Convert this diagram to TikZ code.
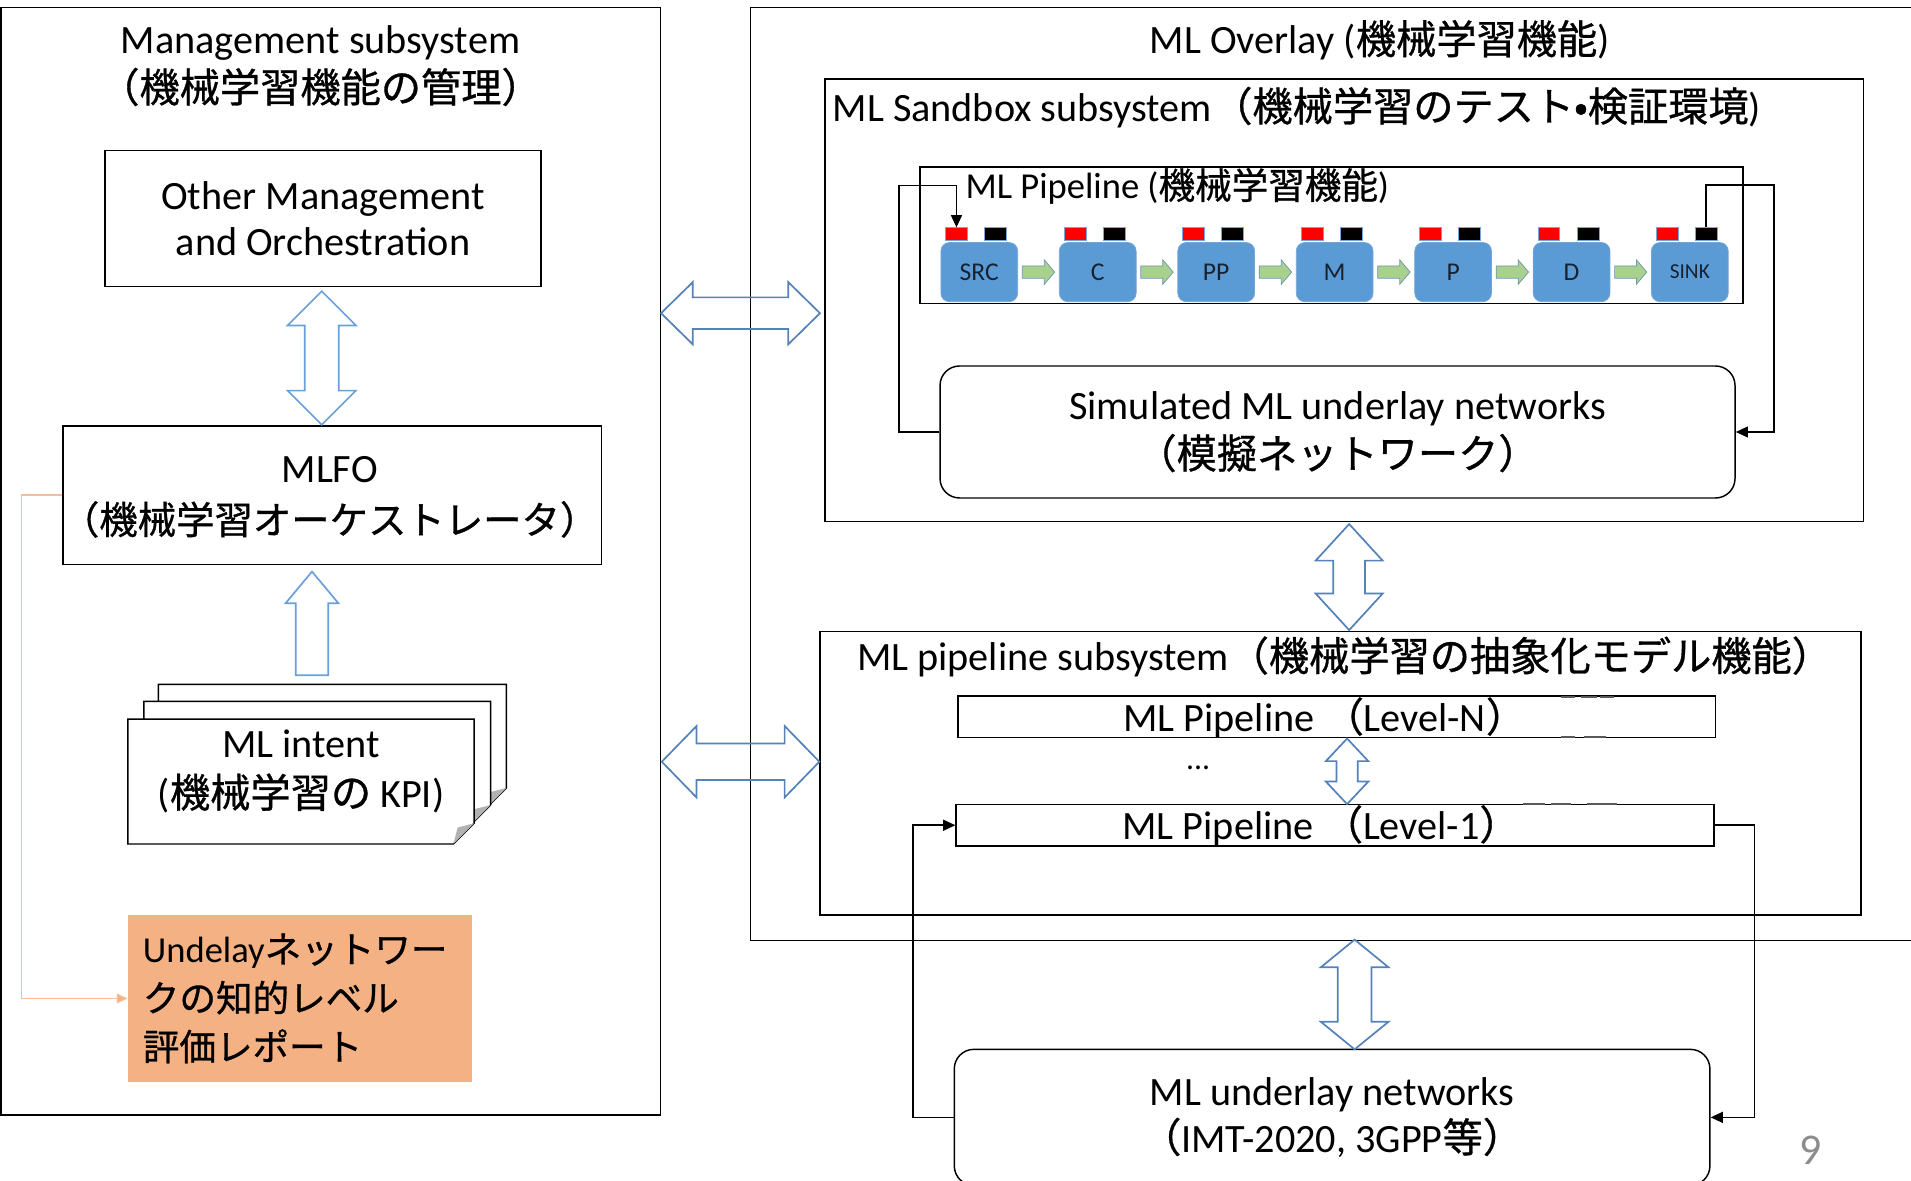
\documentclass[tikz,border=0pt]{standalone}
\usepackage{fontspec}
\setmainfont{Carlito}
\newfontfamily\jp[FakeBold=0.8]{Noto Sans CJK JP}
\usetikzlibrary{calc,arrows.meta}

\definecolor{arrblue}{RGB}{84,130,185}
\definecolor{arrlight}{RGB}{105,160,218}
\definecolor{cbody}{RGB}{91,155,213}
\definecolor{cedge}{RGB}{120,165,215}
\definecolor{contxt}{RGB}{22,34,48}
\definecolor{gfill}{RGB}{169,209,142}
\definecolor{gedge}{RGB}{110,150,175}
\definecolor{orangebox}{RGB}{244,177,131}
\definecolor{orangeline}{RGB}{246,190,150}
\definecolor{pagegrey}{RGB}{140,140,140}

\tikzset{
  base/.style={inner sep=0pt, font=\fontsize{33}{40}\selectfont},
  box/.style={base, draw=black, line width=1.2pt, align=center},
  rbox/.style={box, rounded corners=16pt},
  title/.style={base, align=center},
  conn/.style={draw=black, line width=1.2pt},
  blk/.style={draw=arrblue, line width=1.4pt, line join=miter},
  blkl/.style={draw=arrlight, line width=1.4pt, line join=miter},
  cont/.style={fill=cbody, draw=cedge, line width=0.6pt, rounded corners=7pt,
    minimum width=63pt, minimum height=48.5pt, inner sep=0pt, text=contxt},
  capin/.style={fill=red, draw=cedge, line width=0.5pt, minimum width=18pt,
    minimum height=10.2pt, inner sep=0pt},
  capout/.style={capin, fill=black},
  ghost/.style={draw=black!65, line width=1.6pt},
}

% vertical double block arrow: x, y top, y bottom, head half width, head length, shaft half width
\newcommand\dblv[7][blk]{\draw[#1] (#2,#3) -- (#2+#5,#3+#6) -- (#2+#7,#3+#6) -- (#2+#7,#4-#6)
  -- (#2+#5,#4-#6) -- (#2,#4) -- (#2-#5,#4-#6) -- (#2-#7,#4-#6) -- (#2-#7,#3+#6)
  -- (#2-#5,#3+#6) -- cycle;}
% horizontal double block arrow: y, x left, x right, head half height, head length, shaft half height
\newcommand\dblh[7][blk]{\draw[#1] (#3,#2) -- (#3+#6,#2-#5) -- (#3+#6,#2-#7) -- (#4-#6,#2-#7)
  -- (#4-#6,#2-#5) -- (#4,#2) -- (#4-#6,#2+#5) -- (#4-#6,#2+#7) -- (#3+#6,#2+#7)
  -- (#3+#6,#2+#5) -- cycle;}
% pipeline container with input and output ports
\newcommand\container[4]{%
  \node[cont, font=\fontsize{#4}{#4}\selectfont] (#1) at (#2+31.5,223.25) {#3};
  \node[capin] (#1-in) at (#2+12.8,191.9) {};
  \node[capout] (#1-out) at (#2+44.85,191.9) {};}
% small green flow arrow between two containers
\newcommand\garrow[2]{\filldraw[fill=gfill, draw=gedge, line width=0.6pt]
  let \p1=(#1.east), \p2=(#2.west) in
  (\x1+3.5pt,\y1+5pt) -- (\x2-12pt,\y1+5pt) -- (\x2-12pt,\y1+10pt) -- (\x2-3.5pt,\y1)
  -- (\x2-12pt,\y1-10pt) -- (\x2-12pt,\y1-5pt) -- (\x1+3.5pt,\y1-5pt) -- cycle;}
% one sheet of a stacked document with a folded corner
\newcommand\sheet[4]{%
  \filldraw[fill=white, draw=black, line width=1.2pt] (#1,#2) -- (#3,#2) -- (#3,#4-17)
    -- (#3-17,#4) -- (#1,#4) -- cycle;
  \fill[gray!60] (#3,#4-17) -- (#3-17,#4) -- (#3-13.5,#4-13.5) -- cycle;}

\begin{document}
\begin{tikzpicture}[x=1pt,y=-1pt]
\useasboundingbox (0,0) rectangle (1568,969);
\fill[white] (0,0) rectangle (1568,969);
\begin{scope}
\clip (0,0) rectangle (1568,969);

% ---------- management subsystem ----------
\node[box, minimum width=541pt, minimum height=909pt] (mgmt) at (271.5,460.5) {};
\node[title] (mgmttitle) at (263,54) {Management subsystem\\{\jp （機械学習機能の管理）}};
\node[box, minimum width=358pt, minimum height=111.6pt, font=\fontsize{33}{38}\selectfont]
  (other) at (265,179.4) {Other Management\\and Orchestration};
\node[box, minimum width=441.5pt, minimum height=113.7pt] (mlfo) at (272.6,406.2) {};
\node[title, font=\fontsize{33}{42}\selectfont] (mlfotext) at (270.5,408)
  {MLFO\\{\jp\fontsize{31.5}{42}\selectfont （機械学習オーケストレータ）}};
\dblv[blkl]{264}{239}{348.5}{28}{28}{14}
\draw[blkl] (256,469) -- (277.7,495) -- (269.3,495) -- (269.3,554) -- (242.7,554)
  -- (242.7,495) -- (234.3,495) -- cycle;

% stacked intent documents
\sheet{130}{561.5}{415.5}{663.5}
\sheet{118}{575.5}{402.5}{677.5}
\sheet{105}{590}{389}{692.5}
\node[title, font=\fontsize{33}{41}\selectfont] (intent) at (247,633) {ML intent\\({\jp 機械学習の} KPI)};

% evaluation report
\node[base, fill=orangebox, minimum width=282.5pt, minimum height=136.5pt, text width=258pt,
  align=left, font=\fontsize{30}{40}\selectfont] (report) at (246.25,819.25)
  {Undelay{\jp ネットワー}\\{\jp クの知的レベル}\\{\jp 評価レポート}};
\coordinate (orbend) at (17.5,406.2);
\draw[draw=orangeline, line width=1pt, -{Triangle[length=9pt,width=8pt,fill=orangebox]}]
  (mlfo.west) -- (orbend) |- (report.west);

% ---------- ML overlay ----------
\node[box, minimum width=1000pt, minimum height=765.5pt] (overlay) at (1116,388.75) {};
\node[title] (overlaytitle) at (1132,33) {ML Overlay ({\jp 機械学習機能})};

% sandbox
\node[box, minimum width=852pt, minimum height=363pt] (sandbox) at (1103,246.5) {};
\node[title, anchor=west] (sandboxtitle) at (683,88)
  {ML Sandbox subsystem{\jp （機械学習のテスト•検証環境})};
\node[box, minimum width=675pt, minimum height=112pt] (pipe) at (1092.5,193) {};
\node[title, anchor=west, font=\fontsize{30}{34}\selectfont] (pipetitle) at (792,153)
  {ML Pipeline ({\jp 機械学習機能})};

\container{src}{772}{SRC}{21}
\container{cc}{869.2}{C}{21}
\container{pp}{966.4}{PP}{21}
\container{mm}{1063.6}{M}{21}
\container{p}{1160.8}{P}{21}
\container{dd}{1258}{D}{21}
\container{sink}{1355}{SINK}{17.5}
\garrow{src}{cc}
\garrow{cc}{pp}
\garrow{pp}{mm}
\garrow{mm}{p}
\garrow{p}{dd}
\garrow{dd}{sink}

\node[rbox, minimum width=652.3pt, minimum height=108.3pt] (sim) at (1097.45,354.45)
  {Simulated ML underlay networks\\{\jp （模擬ネットワーク）}};
\coordinate (simloopl) at (737.6,152.3);
\coordinate (simloopr) at (1455.6,151.8);
\draw[conn, -{Triangle[length=10pt,width=9pt]}] (sim.west) -| (simloopl) -| (src-in.north);
\draw[conn, -{Triangle[length=10pt,width=9pt]}] (sink-out.north) |- (simloopr) |- (sim.east);

% pipeline subsystem
\node[box, minimum width=854.3pt, minimum height=232.5pt] (pipesub) at (1099.85,634.55) {};
\node[title, anchor=west] (pipesubtitle) at (703,539)
  {ML pipeline subsystem{\jp （機械学習の抽象化モデル機能）}};
\node[box, minimum width=621.7pt, minimum height=34.3pt] (lvln) at (1096.85,588.15) {};
\node[title] (lvlntext) at (1087,589) {ML Pipeline {\jp （}Level-N{\jp ）}};
\node[box, minimum width=621.9pt, minimum height=34.2pt] (lvl1) at (1095.45,677.1) {};
\node[title] (lvl1text) at (1084,677.5) {ML Pipeline {\jp （}Level-1{\jp ）}};
\node[title, font=\fontsize{26}{26}\selectfont] (dots) at (983,630) {...};
\dblv{1105.3}{606}{659.8}{17.4}{18.5}{8.7}

% faint leftovers beside the level boxes
\draw[ghost] (1281,572.2) -- (1292,572.2) (1297,572.2) -- (1310,572.2) (1313,572.2) -- (1324,572.2);
\draw[ghost] (1281,604.4) -- (1292,604.4) (1300,604.4) -- (1318,604.4);
\draw[ghost] (1250,659.4) -- (1268,659.4) (1273,659.4) -- (1289,659.4) (1302,659.4) -- (1327,659.4);

\dblv{1107}{430}{517}{27.5}{30}{13}

% ---------- underlay networks ----------
\node[rbox, minimum width=620pt, minimum height=111.6pt, font=\fontsize{33}{38.5}\selectfont]
  (under) at (1093,916.8) {ML underlay networks\\{\jp （}IMT-2020, 3GPP{\jp 等）}};
\dblv{1111.5}{771}{861}{27.7}{22.6}{13.8}
\coordinate (ulloop) at (749.3,677.1);
\coordinate (urloop) at (1439.5,916.8);
\draw[conn, -{Triangle[length=10pt,width=9pt]}] (under.west) -| (ulloop) -- (lvl1.west);
\draw[conn, -{Triangle[length=10pt,width=9pt]}] (lvl1.east) -| (urloop) -- (under.east);

% ---------- links between the subsystems ----------
\dblh{257}{542.4}{672.8}{25.5}{26}{13}
\dblh{625}{543}{672.3}{29.3}{28.5}{15}

% page number
\node[base, text=pagegrey, font=\fontsize{36}{36}\selectfont] (pageno) at (1486,944) {9};
\end{scope}
\end{tikzpicture}
\end{document}
